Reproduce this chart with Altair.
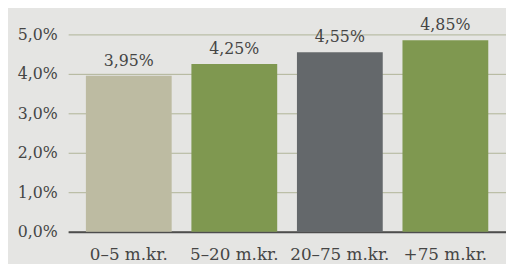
import altair as alt
import pandas as pd

categories = ["0–5 m.kr.", "5–20 m.kr.", "20–75 m.kr.", "+75 m.kr."]
values = [3.95, 4.25, 4.55, 4.85]
colors = ["#bdbba2", "#7f9850", "#64686b", "#7f9850"]
y_ticks = [0, 1, 2, 3, 4, 5]

df = pd.DataFrame({"cat": categories, "val": values, "color": colors})
df["label"] = [f"{v:.2f}".replace(".", ",") + "%" for v in values]

FONT = "DejaVu Serif"
TEXT = "#454545"

x = alt.X("cat:N", sort=categories, title=None,
          scale=alt.Scale(paddingInner=0.187, paddingOuter=0.168),
          axis=alt.Axis(labelAngle=0, labelFont=FONT, labelFontSize=17,
                        labelColor=TEXT, labelPadding=15, ticks=False,
                        labelOverlap=False,
                        domainColor="#4d4d4d", domainWidth=2, grid=False))
y = alt.Y("val:Q", title=None,
          scale=alt.Scale(domain=[0, 5], nice=False),
          axis=alt.Axis(values=y_ticks, labelFont=FONT, labelFontSize=16,
                        labelColor=TEXT, labelPadding=11, ticks=False, domain=False,
                        labelOverlap=False, labelBound=False,
                        gridColor="#b0b497", gridWidth=1,
                        labelExpr="replace(format(datum.value, '.1f'), '.', ',') + '%'"))

base = alt.Chart(df).encode(x=x, y=y)
bars = base.mark_bar().encode(color=alt.Color("color:N", scale=None))
text = base.mark_text(font=FONT, fontSize=16, color=TEXT,
                      baseline="bottom", dy=-7).encode(text="label:N")

chart = (bars + text).properties(
    width=444, height=200,
    autosize=alt.AutoSizeParams(type="none"),
    padding={"left": 61, "top": 25, "right": 0, "bottom": 31},
    background="#e5e5e3",
).configure_view(stroke=None)

chart.save("out.html", embed_options={"renderer": "svg", "actions": False})
